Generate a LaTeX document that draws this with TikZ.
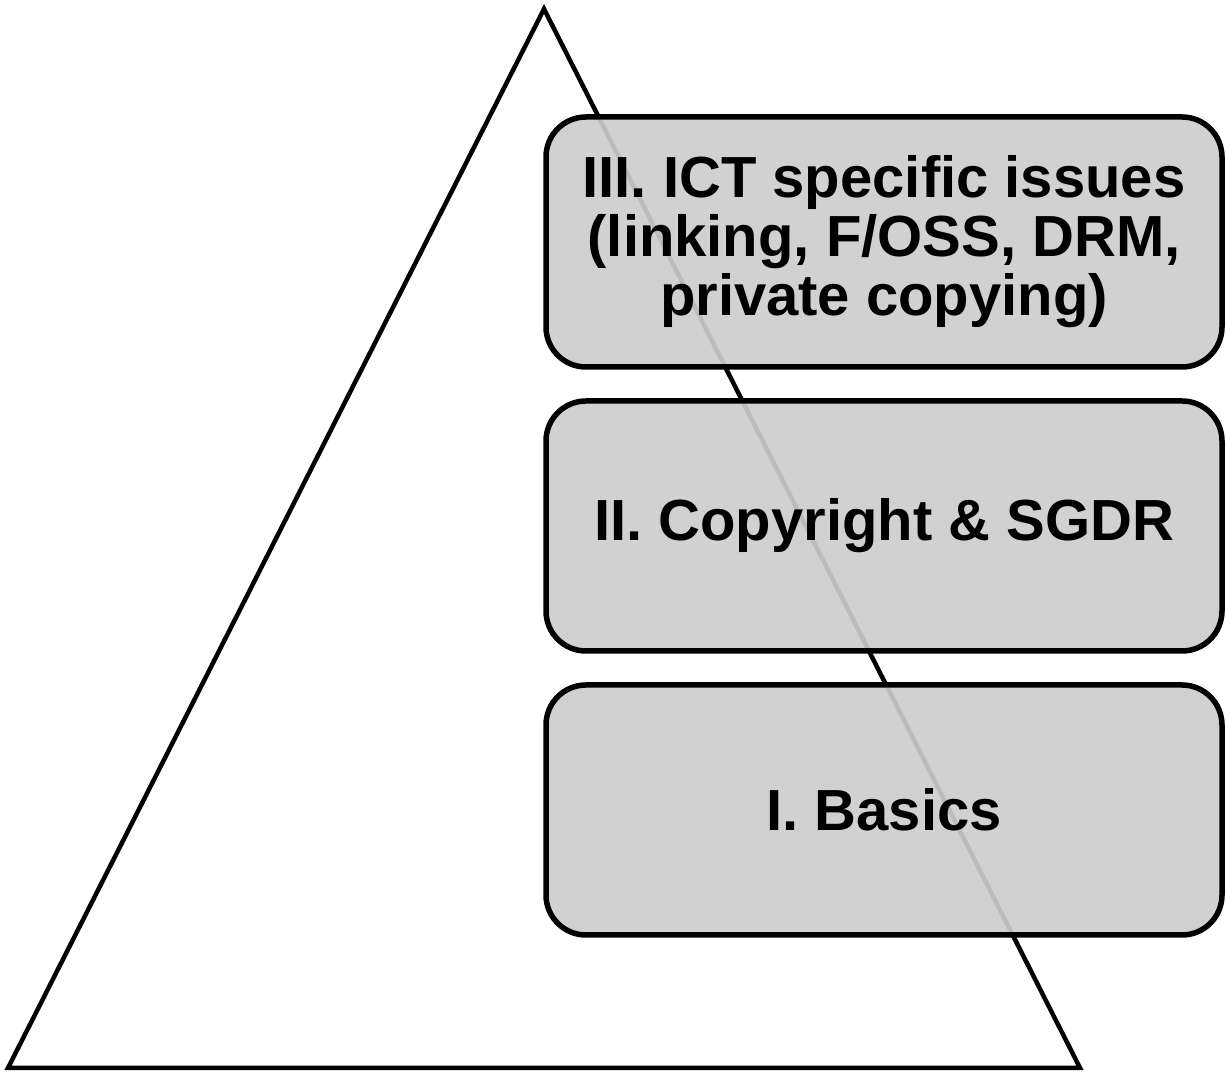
\documentclass[tikz,border=0pt]{standalone}
\usepackage{fontspec}
\setmainfont{Liberation Sans}
\begin{document}
\begin{tikzpicture}[x=1pt,y=1pt,
  layerbox/.style={draw=black,line width=5.5pt,rounded corners=40pt,fill={rgb,255:red,205;green,205;blue,205},fill opacity=0.92,text opacity=1,
    minimum width=676pt,minimum height=250pt,align=center,font=\fontsize{58}{59}\selectfont\bfseries,inner sep=0pt},
  pyr/.style={draw=black,line width=4.5pt,line join=miter}]
\useasboundingbox (0,0) rectangle (1226,1075);
\coordinate (apex) at (544,1066);
\coordinate (bl) at (8,7);
\coordinate (br) at (1080,7);
\draw[pyr] (apex) -- (br) -- (bl) -- cycle;
\node[layerbox] (l3) at (884,833) {III. ICT specific issues\\(linking, F/OSS, DRM,\\private copying)};
\node[layerbox] (l2) at (884,549) {II. Copyright \& SGDR};
\node[layerbox] (l1) at (884,265) {I. Basics};
\end{tikzpicture}
\end{document}
